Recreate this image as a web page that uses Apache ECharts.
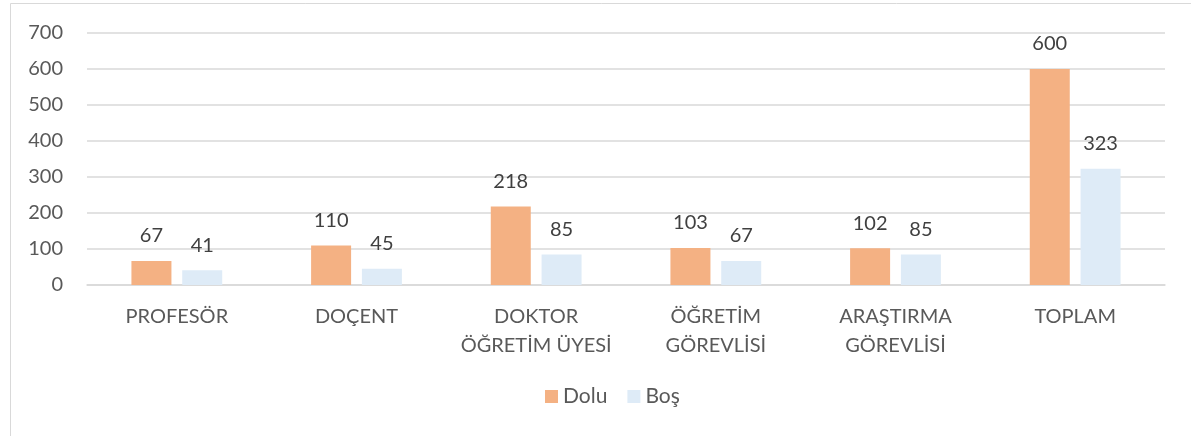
<!DOCTYPE html>
<html>
<head>
<meta charset="utf-8">
<script src="https://cdn.jsdelivr.net/npm/echarts@6/dist/echarts.min.js"></script>
<style>
  html, body { margin: 0; padding: 0; background: #fff; overflow: hidden; }
  #barChart { width: 1191px; height: 436px; }
</style>
</head>
<body>
<div id="barChart"></div>
<script>
const categories = ['PROFESÖR', 'DOÇENT', 'DOKTOR\nÖĞRETİM ÜYESİ', 'ÖĞRETİM\nGÖREVLİSİ', 'ARAŞTIRMA\nGÖREVLİSİ', 'TOPLAM']
const doluValues = [67, 110, 218, 103, 102, 600]
const bosValues = [41, 45, 85, 67, 85, 323]
const yTicks = [0, 100, 200, 300, 400, 500, 600, 700]

const textColor = '#595959'
const font = 'Lato, "Open Sans", sans-serif'

const labelStyle = {
  show: true,
  position: 'top',
  distance: 15,
  color: '#404040',
  fontSize: 20,
  fontFamily: font
}

const option = {
  animation: false,
  textStyle: { fontFamily: font, color: textColor },
  graphic: [
    {
      type: 'rect',
      shape: { x: 10.5, y: 3.5, width: 1200, height: 460 },
      style: { fill: 'none', stroke: '#d9d9d9', lineWidth: 1 },
      silent: true
    }
  ],
  legend: {
    bottom: 24,
    left: 540,
    itemWidth: 13,
    itemHeight: 13,
    itemGap: 20,
    icon: 'rect',
    textStyle: { color: textColor, fontSize: 21, fontFamily: font },
    data: ['Dolu', 'Boş']
  },
  grid: {
    left: 87,
    right: 26,
    top: 33,
    bottom: 151
  },
  xAxis: {
    type: 'category',
    data: categories,
    axisTick: { show: false },
    axisLine: { lineStyle: { color: '#d9d9d9', width: 1.5 } },
    axisLabel: {
      color: textColor,
      fontSize: 20,
      lineHeight: 29,
      margin: 17,
      interval: 0
    }
  },
  yAxis: {
    type: 'value',
    min: yTicks[0],
    max: yTicks[yTicks.length - 1],
    interval: 100,
    axisLine: { show: false },
    axisTick: { show: false },
    axisLabel: { color: textColor, fontSize: 20, margin: 24 },
    splitLine: { lineStyle: { color: '#d9d9d9', width: 1.5 } }
  },
  series: [
    {
      name: 'Dolu',
      type: 'bar',
      data: doluValues,
      barWidth: 40,
      barGap: '27%',
      itemStyle: { color: '#F4B183' },
      label: labelStyle
    },
    {
      name: 'Boş',
      type: 'bar',
      data: bosValues,
      barWidth: 40,
      itemStyle: { color: '#DEEBF7' },
      label: labelStyle
    }
  ]
}

const myChart = echarts.init(document.getElementById('barChart'))
option && myChart.setOption(option)
</script>
</body>
</html>
